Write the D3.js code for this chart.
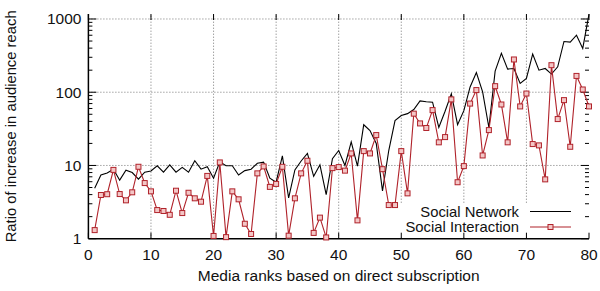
<!DOCTYPE html>
<html>
<head>
<meta charset="utf-8">
<script src="https://cdn.jsdelivr.net/npm/d3@7"></script>
<style>
body { margin: 0; background: #fff; }
text { font-family: "Liberation Sans", Arial, sans-serif; fill: #111; }
</style>
</head>
<body>
<div id="chart"></div>
<script>
// media ranks (x) and the two series
let ranks = d3.range(1, 81);
let socialNetwork = [
	4.9, 7.4, 7.9, 8.9, 6.3, 8.6, 8.0, 6.5, 8.1, 8.4,
	9.9, 8.1, 10.2, 8.1, 9.4, 8.1, 11.6, 8.9, 9.6, 6.7,
	11.2, 9.9, 9.9, 7.4, 8.5, 8.9, 10.7, 11.1, 6.7, 5.9,
	13.5, 3.6, 8.7, 11.5, 14.6, 7.1, 10.2, 4.0, 12.4, 16,
	10, 21, 9.8, 36, 30, 20, 4.5, 16, 41, 48,
	51, 58, 76, 74, 73, 33, 55, 95, 36, 56,
	118, 186, 101, 33, 194, 340, 207, 211, 132, 154,
	331, 200, 211, 177, 222, 493, 483, 601, 396, 1165
];
let socialInteraction = [
	1.31, 3.95, 4.05, 8.7, 4.07, 3.34, 4.3, 9.6, 5.75, 4.43,
	2.46, 2.39, 2.12, 4.52, 2.24, 4.24, 3.56, 3.2, 7.2, 1.09,
	11.0, 1.05, 4.43, 3.45, 1.6, 1.16, 7.8, 9.7, 5.1, 5.6,
	9.6, 1.1, 3.56, 7.8, 11.6, 1.2, 1.94, 1.04, 9.2, 9.5,
	8.5, 14.6, 1.78, 15.7, 14.6, 26, 8.9, 2.88, 2.88, 15.7,
	4.16, 51, 37.5, 32.5, 57, 20.7, 24.4, 79.8, 5.9, 9.8,
	70, 107, 13.7, 30.4, 121, 68, 20.7, 280, 64, 96,
	19.6, 18.8, 6.46, 234, 43, 78, 18, 167, 109, 64
];
let xTicks = [0, 10, 20, 30, 40, 50, 60, 70, 80];
let yTicks = [1, 10, 100, 1000];
let seriesNames = ["Social Network", "Social Interaction"];

let width = 600, height = 291;
let margin = {top: 14, right: 11, bottom: 52.3, left: 88.4};
let red = "#b0222a";

let svg = d3.select("#chart").append("svg")
	.attr("width", width)
	.attr("height", height);

let x = d3.scaleLinear().domain([0, 80]).range([margin.left, width - margin.right]);
let y = d3.scaleLog().domain([1, 1170]).range([height - margin.bottom, margin.top]);

let x0 = x.range()[0], x1 = x.range()[1];
let y0 = y.range()[0], y1 = y.range()[1];

// grid
let grid = svg.append("g")
	.attr("stroke", "#555")
	.attr("stroke-width", 0.8)
	.attr("stroke-dasharray", "1,2");
grid.selectAll(".gx")
	.data(xTicks.filter(d => d > 0 && d < 80))
	.enter().append("line")
	.attr("x1", d => x(d)).attr("x2", d => x(d))
	.attr("y1", y0).attr("y2", y1);
grid.selectAll(".gy")
	.data(yTicks.filter(d => d > 1))
	.enter().append("line")
	.attr("x1", x0).attr("x2", x1)
	.attr("y1", d => y(d)).attr("y2", d => y(d));

// legend background hides the grid
svg.append("rect")
	.attr("x", 394).attr("y", 203)
	.attr("width", 192).attr("height", 34)
	.attr("fill", "#fff");

// minor/major ticks on the log axis (left and mirrored right)
let minor = [];
for (let dec = 1; dec < 1000; dec *= 10)
	for (let m = 2; m <= 9; m++) minor.push(dec * m);
let ticks = svg.append("g").attr("stroke", "#000").attr("stroke-width", 1);
ticks.selectAll(".ml").data(minor).enter().append("line")
	.attr("x1", x0).attr("x2", x0 + 4)
	.attr("y1", d => y(d)).attr("y2", d => y(d));
ticks.selectAll(".mr").data(minor).enter().append("line")
	.attr("x1", x1).attr("x2", x1 - 4)
	.attr("y1", d => y(d)).attr("y2", d => y(d));
ticks.selectAll(".Ml").data(yTicks).enter().append("line")
	.attr("x1", x0).attr("x2", x0 + 8)
	.attr("y1", d => y(d)).attr("y2", d => y(d));
ticks.selectAll(".Mr").data(yTicks).enter().append("line")
	.attr("x1", x1).attr("x2", x1 - 8)
	.attr("y1", d => y(d)).attr("y2", d => y(d));
ticks.selectAll(".tb").data(xTicks).enter().append("line")
	.attr("x1", d => x(d)).attr("x2", d => x(d))
	.attr("y1", y0).attr("y2", y0 - 6);
ticks.selectAll(".tt").data(xTicks).enter().append("line")
	.attr("x1", d => x(d)).attr("x2", d => x(d))
	.attr("y1", y1).attr("y2", y1 + 6);

// axes lines
svg.append("line").attr("x1", x0).attr("x2", x0).attr("y1", y1).attr("y2", y0)
	.attr("stroke", "#000").attr("stroke-width", 1.5);
svg.append("line").attr("x1", x0).attr("x2", x1).attr("y1", y0).attr("y2", y0)
	.attr("stroke", "#000").attr("stroke-width", 1.5);

// tick labels
svg.selectAll(".xl").data(xTicks).enter().append("text")
	.attr("x", d => x(d)).attr("y", y0 + 21)
	.attr("text-anchor", "middle")
	.attr("font-size", 15.5)
	.text(d => d);
svg.selectAll(".yl").data(yTicks).enter().append("text")
	.attr("x", x0 - 7).attr("y", d => y(d))
	.attr("dy", "0.35em")
	.attr("text-anchor", "end")
	.attr("font-size", 15.5)
	.text(d => d);

// axis titles
svg.append("text")
	.attr("x", (x0 + x1) / 2).attr("y", 281)
	.attr("text-anchor", "middle")
	.attr("font-size", 15.5)
	.text("Media ranks based on direct subscription");
svg.append("text")
	.attr("transform", "translate(16," + ((y0 + y1) / 2) + ") rotate(-90)")
	.attr("text-anchor", "middle")
	.attr("font-size", 14.8)
	.text("Ratio of increase in audience reach");

// series
let line = d3.line()
	.x((d, i) => x(ranks[i]))
	.y(d => y(d));

svg.append("path")
	.datum(socialNetwork)
	.attr("d", line)
	.attr("fill", "none")
	.attr("stroke", "#000")
	.attr("stroke-width", 1.1);

svg.append("path")
	.datum(socialInteraction)
	.attr("d", line)
	.attr("fill", "none")
	.attr("stroke", red)
	.attr("stroke-width", 1.1);

svg.selectAll(".pt")
	.data(socialInteraction)
	.enter().append("rect")
	.attr("x", (d, i) => x(ranks[i]) - 2.5)
	.attr("y", d => y(d) - 2.5)
	.attr("width", 5).attr("height", 5)
	.attr("fill", "#f3c6c6")
	.attr("stroke", red)
	.attr("stroke-width", 1);

// legend
let legend = svg.append("g");
legend.selectAll("text").data(seriesNames).enter().append("text")
	.attr("x", 519).attr("y", (d, i) => 211.5 + i * 15.5)
	.attr("dy", "0.35em")
	.attr("text-anchor", "end")
	.attr("font-size", 14.8)
	.text(d => d);
legend.append("line")
	.attr("x1", 530).attr("x2", 571).attr("y1", 211.5).attr("y2", 211.5)
	.attr("stroke", "#000").attr("stroke-width", 1.1);
legend.append("line")
	.attr("x1", 530).attr("x2", 571).attr("y1", 227).attr("y2", 227)
	.attr("stroke", red).attr("stroke-width", 1.1);
legend.append("rect")
	.attr("x", 548).attr("y", 224.5).attr("width", 5).attr("height", 5)
	.attr("fill", "#f3c6c6").attr("stroke", red);
</script>
</body>
</html>
